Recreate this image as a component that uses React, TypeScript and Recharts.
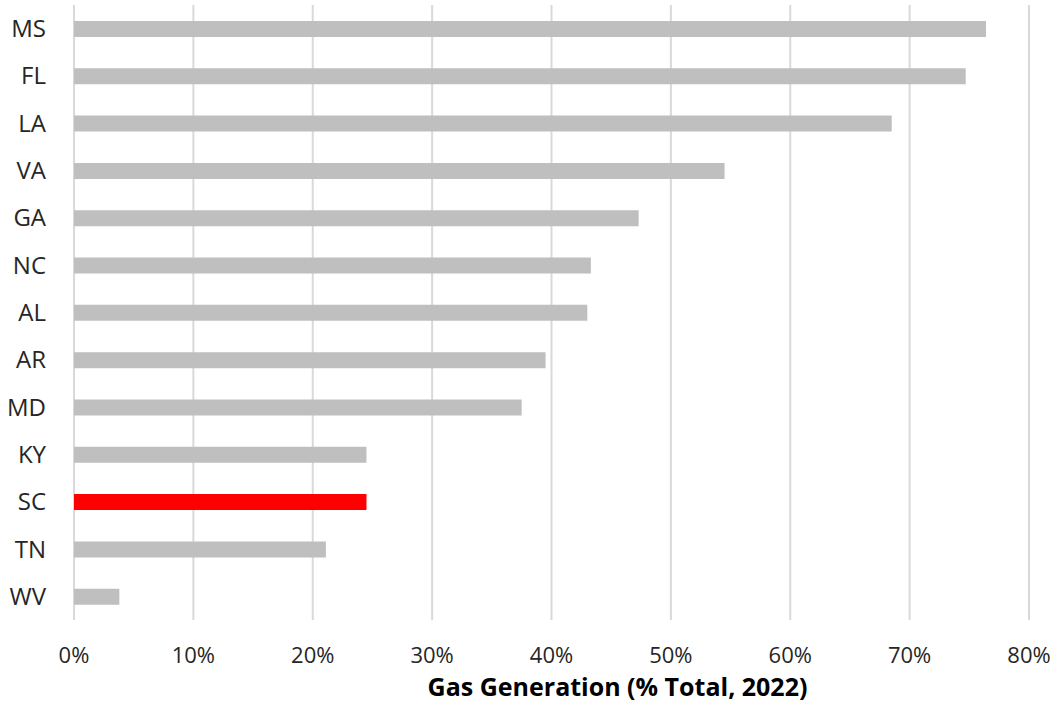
import React from 'react';
import { BarChart, Bar, XAxis, YAxis, CartesianGrid, Cell, Label } from 'recharts';

const states = ['MS', 'FL', 'LA', 'VA', 'GA', 'NC', 'AL', 'AR', 'MD', 'KY', 'SC', 'TN', 'WV'];
const gasShare = [76.4, 74.7, 68.5, 54.5, 47.3, 43.3, 43.0, 39.5, 37.5, 24.5, 24.5, 21.1, 3.8];
const xTicks = [0, 10, 20, 30, 40, 50, 60, 70, 80];
const highlight = 'SC';

const data = states.map((s, i) => ({ state: s, value: gasShare[i] }));

const font = '"Open Sans", "Noto Sans", sans-serif';

export default function App() {
    return (
        <div style={{ position: 'absolute', left: 0, top: 0, width: 1051, height: 707, background: '#fff' }}>
            <BarChart
                width={1051}
                height={707}
                data={data}
                layout="vertical"
                margin={{ top: 5, right: 22, left: 0, bottom: 0 }}
            >
                <CartesianGrid horizontal={false} stroke="#d9d9d9" strokeWidth={2} />
                <XAxis
                    type="number"
                    domain={[0, 80]}
                    ticks={xTicks}
                    tickFormatter={(v) => `${v}%`}
                    axisLine={false}
                    tickLine={false}
                    tickMargin={21}
                    height={87}
                    tick={{ fontSize: 22, fill: '#262626', fontFamily: font }}
                    interval={0}
                >
                    <Label
                        value="Gas Generation (% Total, 2022)"
                        position="insideBottom"
                        offset={11}
                        dx={66}
                        style={{ fontSize: 25, fontWeight: 700, fill: '#000', fontFamily: font }}
                    />
                </XAxis>
                <YAxis
                    type="category"
                    dataKey="state"
                    width={74}
                    axisLine={false}
                    tickLine={false}
                    tickMargin={22}
                    interval={0}
                    tick={{ fontSize: 24, fill: '#262626', fontFamily: font }}
                />
                <Bar dataKey="value" barSize={16} isAnimationActive={false}>
                    {data.map((d) => (
                        <Cell key={d.state} fill={d.state === highlight ? '#ff0000' : '#bfbfbf'} />
                    ))}
                </Bar>
            </BarChart>
        </div>
    );
}
